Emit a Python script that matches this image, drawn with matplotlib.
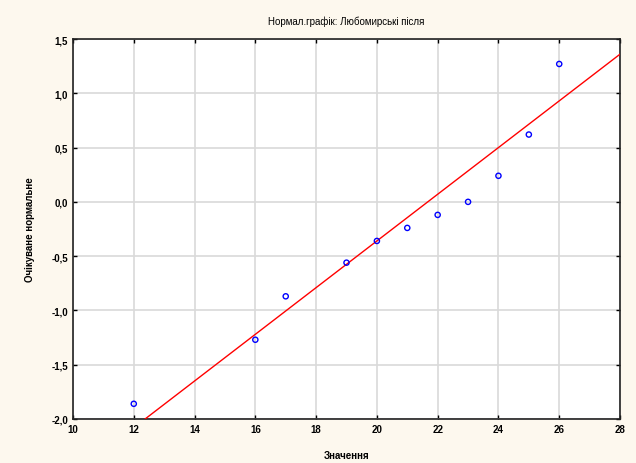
import matplotlib
matplotlib.use("Agg")
import matplotlib.pyplot as plt
from matplotlib.ticker import FuncFormatter, MultipleLocator
import numpy as np

plt.rcParams['font.family'] = ['Liberation Sans', 'DejaVu Sans']

# Data
values = [12, 16, 17, 19, 20, 21, 22, 23, 24, 25, 26]
expected = [-1.86, -1.27, -0.87, -0.56, -0.36, -0.24, -0.12, 0.0, 0.24, 0.62, 1.27]
line_slope = 0.215
line_intercept = 0.5 - 0.215 * 24

title = "Нормал.графік: Любомирські після"
xlabel = "Значення"
ylabel = "Очікуване нормальне"

bg = "#fdf8ee"
fig = plt.figure(figsize=(6.36, 4.64), dpi=100, facecolor=bg)
ax = fig.add_axes([73/636, 44/464, (620-73)/636, (420-40)/464])
ax.set_facecolor("white")

ax.set_xlim(10, 28)
ax.set_ylim(-2.0, 1.5)
ax.xaxis.set_major_locator(MultipleLocator(2))
ax.yaxis.set_major_locator(MultipleLocator(0.5))
ax.grid(True, color="#d9d9d9", linewidth=1.2)
ax.set_axisbelow(True)

lx = np.array([10, 28])
ax.plot(lx, line_intercept + line_slope * lx, color="red", linewidth=1.0, zorder=3)
ax.scatter(values, expected, s=14, facecolors="none", edgecolors="blue", linewidths=1.0, zorder=4)

fmt = FuncFormatter(lambda v, p: ("%.1f" % v).replace(".", ",") if abs(v) > 1e-9 else "0,0")
ax.yaxis.set_major_formatter(fmt)
ax.xaxis.set_major_formatter(FuncFormatter(lambda v, p: "%d" % v))

ax.tick_params(direction="in", length=3, width=1, labelsize=7, top=True, right=True, colors="black")
for lab in ax.get_xticklabels() + ax.get_yticklabels():
    lab.set_fontweight("bold")
for s in ax.spines.values():
    s.set_linewidth(1.2)
    s.set_color("#222222")

fig.text(0.5 * (73 + 620) / 636, 1 - 22 / 464, title, ha="center", va="center", fontsize=7)
fig.text(30 / 636, 1 - 230 / 464, ylabel, ha="center", va="center", rotation=90, fontsize=7, fontweight="bold")
fig.text((73 + 620) / 2 / 636, 1 - 456 / 464, xlabel, ha="center", va="center", fontsize=7, fontweight="bold")

fig.savefig("out.png", dpi=100, facecolor=bg)
